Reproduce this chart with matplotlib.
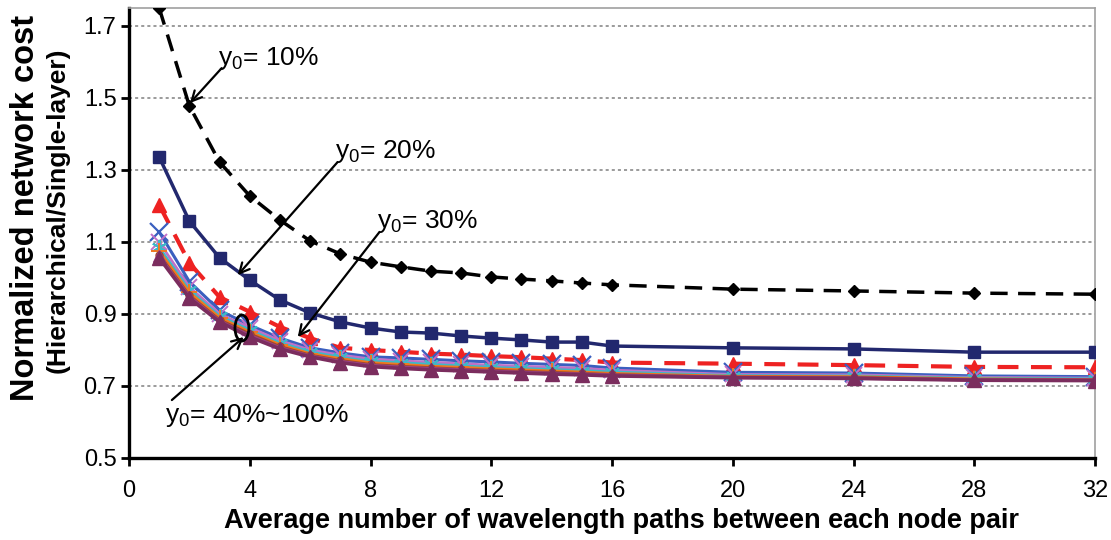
import matplotlib
matplotlib.use("Agg")
import matplotlib.pyplot as plt
from matplotlib.patches import Ellipse

plt.rcParams['font.family'] = ['Liberation Sans', 'DejaVu Sans']
plt.rcParams['mathtext.fontset'] = 'custom'
plt.rcParams['mathtext.rm'] = 'Liberation Sans'
plt.rcParams['mathtext.it'] = 'Liberation Sans'

# average number of wavelength paths per node pair
paths = [1, 2, 3, 4, 5, 6, 7, 8, 9, 10, 11, 12, 13, 14, 15, 16, 20, 24, 28, 32]

# normalized cost (hierarchical / single-layer) for each y0
cost_10 = [1.75, 1.478, 1.322, 1.228, 1.161, 1.103, 1.067, 1.044, 1.031, 1.019,
           1.014, 1.003, 0.997, 0.992, 0.986, 0.981, 0.969, 0.964, 0.958, 0.955]
cost_20 = [1.336, 1.158, 1.056, 0.994, 0.939, 0.903, 0.878, 0.861, 0.850, 0.847,
           0.839, 0.833, 0.828, 0.822, 0.822, 0.811, 0.806, 0.803, 0.794, 0.794]
cost_30 = [1.203, 1.042, 0.947, 0.906, 0.864, 0.833, 0.806, 0.800, 0.795, 0.790,
           0.787, 0.783, 0.780, 0.776, 0.772, 0.765, 0.762, 0.758, 0.753, 0.752]
cost_40 = [1.128, 0.990, 0.910, 0.869, 0.833, 0.806, 0.792, 0.781, 0.778, 0.774,
           0.770, 0.767, 0.763, 0.760, 0.757, 0.750, 0.738, 0.736, 0.728, 0.726]
cost_50 = [1.100, 0.975, 0.900, 0.862, 0.826, 0.800, 0.786, 0.775, 0.770, 0.766,
           0.762, 0.758, 0.755, 0.752, 0.749, 0.744, 0.732, 0.731, 0.724, 0.722]
cost_60 = [1.085, 0.966, 0.895, 0.855, 0.820, 0.795, 0.780, 0.769, 0.765, 0.760,
           0.756, 0.752, 0.749, 0.746, 0.743, 0.739, 0.729, 0.728, 0.722, 0.720]
cost_70 = [1.075, 0.960, 0.890, 0.850, 0.815, 0.790, 0.776, 0.765, 0.760, 0.755,
           0.752, 0.748, 0.745, 0.742, 0.739, 0.735, 0.727, 0.726, 0.720, 0.718]
cost_80 = [1.065, 0.952, 0.884, 0.845, 0.810, 0.786, 0.771, 0.760, 0.755, 0.751,
           0.747, 0.744, 0.741, 0.738, 0.735, 0.732, 0.725, 0.724, 0.718, 0.717]
cost_90 = [1.060, 0.948, 0.880, 0.840, 0.806, 0.783, 0.768, 0.757, 0.752, 0.748,
           0.745, 0.741, 0.738, 0.735, 0.733, 0.730, 0.724, 0.722, 0.717, 0.716]
cost_100 = [1.056, 0.944, 0.878, 0.836, 0.803, 0.781, 0.765, 0.754, 0.749, 0.745,
            0.742, 0.739, 0.736, 0.733, 0.731, 0.728, 0.723, 0.721, 0.716, 0.715]

x_ticks = [0, 4, 8, 12, 16, 20, 24, 28, 32]
y_ticks = [0.5, 0.7, 0.9, 1.1, 1.3, 1.5, 1.7]

fig = plt.figure(figsize=(11.11, 5.40), dpi=100)
ax = fig.add_axes([129 / 1111, 82 / 540, 966 / 1111, 450 / 540])

ax.plot(paths, cost_10, color='black', lw=2.5, dashes=(5, 3),
        marker='D', ms=6, mec='black', mfc='black', zorder=3)
ax.plot(paths, cost_20, color='#22286e', lw=2.5,
        marker='s', ms=8, mec='#22286e', mfc='#22286e', zorder=3)
ax.plot(paths, cost_30, color='#ee2222', lw=3, dashes=(5, 3),
        marker='^', ms=10, mec='#ee2222', mfc='#ee2222', zorder=3)

ax.plot(paths, cost_40, color='#3a5fbf', lw=2.2, marker='x', ms=13, mew=1.6, zorder=4)
ax.plot(paths, cost_50, color='#c070c8', lw=2.0, marker='x', ms=12, mew=1.4, zorder=4)
ax.plot(paths, cost_60, color='#3cb8c8', lw=2.0, marker=(6, 2, 0), ms=11, mew=1.4, zorder=4)
ax.plot(paths, cost_70, color='#f07820', lw=2.0, marker='+', ms=11, mew=1.4, zorder=4)
ax.plot(paths, cost_80, color='#a04a28', lw=2.0, marker='o', ms=5, zorder=4)
ax.plot(paths, cost_90, color='#9a4088', lw=2.4, marker='^', ms=9, mec='#9a4088', zorder=4)
ax.plot(paths, cost_100, color='#7b2d5e', lw=2.6, marker='^', ms=10, mec='#7b2d5e', zorder=4)

ax.set_xlim(0, 32)
ax.set_ylim(0.5, 1.75)
ax.set_xticks(x_ticks)
ax.set_yticks(y_ticks)
ax.set_yticklabels(['%.1f' % v for v in y_ticks])

for y in y_ticks[1:]:
    ax.axhline(y, color='#808080', lw=1.1, ls=(0, (2, 2)), zorder=1)

for side in ('left', 'bottom'):
    ax.spines[side].set_linewidth(2.4)
    ax.spines[side].set_color('black')
for side in ('top', 'right'):
    ax.spines[side].set_linewidth(1.2)
    ax.spines[side].set_color('#a0a0a0')

ax.tick_params(axis='both', direction='out', length=6, width=2, pad=4,
               labelsize=17)
ax.tick_params(axis='y', pad=3)
ax.tick_params(axis='x', pad=10)

ax.set_xlabel('Average number of wavelength paths between each node pair',
              fontsize=19.5, fontweight='bold', labelpad=0)
ax.xaxis.set_label_coords(0.51, -0.11)
fig.text(26 / 1111, 1 - 208 / 540, 'Normalized network cost', rotation=90,
         fontsize=23.5, fontweight='bold', ha='center', va='center')
fig.text(58 / 1111, 1 - 210 / 540, '(Hierarchical/Single-layer)', rotation=90,
         fontsize=19, fontweight='bold', ha='center', va='center')

arrow = dict(arrowstyle='->', color='black', lw=1.6, mutation_scale=18,
             shrinkA=0, shrinkB=0)
ax.annotate('', xy=(2.02, 1.486), xytext=(3.07, 1.583), arrowprops=arrow)
ax.annotate('', xy=(3.6, 1.008), xytext=(6.91, 1.322), arrowprops=arrow)
ax.annotate('', xy=(5.59, 0.836), xytext=(8.30, 1.128), arrowprops=arrow)
ax.annotate('', xy=(3.80, 0.836), xytext=(1.42, 0.661), arrowprops=arrow)

lbl = dict(fontsize=19, ha='left', va='center', zorder=6)
ax.text(2.95, 1.611, r'$\mathregular{y_0}$= 10%', **lbl)
ax.text(6.81, 1.350, r'$\mathregular{y_0}$= 20%', **lbl)
ax.text(8.23, 1.156, r'$\mathregular{y_0}$= 30%', **lbl)
ax.text(1.19, 0.619, r'$\mathregular{y_0}$= 40%~100%', **lbl)

ax.add_patch(Ellipse((3.74, 0.861), 0.46, 0.072, fill=False, ec='black', lw=2, zorder=6))

fig.savefig('out.png', dpi=100)
